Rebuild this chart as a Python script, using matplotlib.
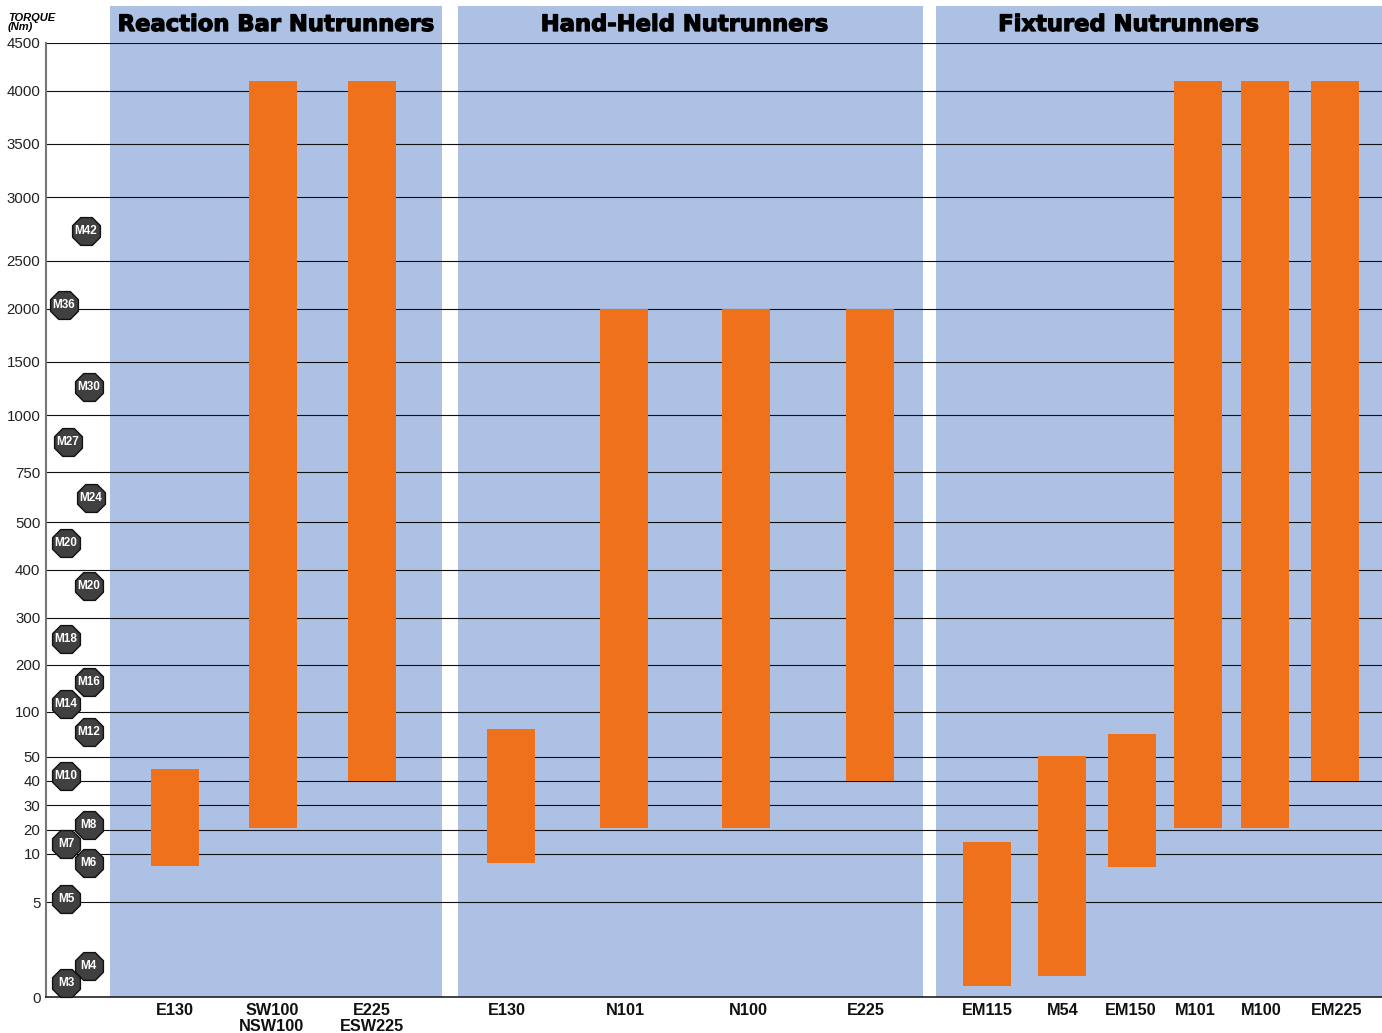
import numpy as np
import matplotlib
matplotlib.use("Agg")
import matplotlib.pyplot as plt
import matplotlib.patheffects as pe
from matplotlib.patches import Rectangle
from matplotlib.transforms import blended_transform_factory

W, H = 1382, 1033

# --- data ---
tick_values = [0, 5, 10, 20, 30, 40, 50, 100, 200, 300, 400, 500, 750, 1000,
               1500, 2000, 2500, 3000, 3500, 4000, 4500]
tick_pixels = [997.3, 902.3, 853.7, 829.5, 805, 780.7, 756.5, 711.5, 664.5, 617.5,
               569.7, 522, 472, 415, 361.5, 308.5, 260.5, 197, 143.5, 90.5, 42.5]

groups = ["Reaction Bar Nutrunners", "Hand-Held Nutrunners", "Fixtured Nutrunners"]
group_left = [110, 458, 936]
group_right = [442, 923, 1382]
group_title_x = [276, 684.5, 1128.5]

bar_labels = ["E130", "SW100\nNSW100", "E225\nESW225", "E130", "N101", "N100", "E225",
              "EM115", "M54", "EM150", "M101", "M100", "EM225"]
bar_low = [8.7, 20.7, 40, 9, 20.7, 20.7, 40, 0.6, 1.1, 8.6, 20.7, 20.7, 40]
bar_high = [45, 4100, 4100, 80.5, 2000, 2000, 2000, 15, 51, 75, 4100, 4100, 4100]
bar_left = [151, 249, 348, 487, 600, 722, 846, 963, 1038, 1108, 1174, 1241, 1311]
bar_width = 48
label_x = [175, 272, 372, 507, 625, 748, 866, 987, 1063, 1131, 1195, 1261, 1337]

bolt_names = ["M42", "M36", "M30", "M27", "M24", "M20", "M20", "M18", "M16", "M14",
              "M12", "M10", "M8", "M7", "M6", "M5", "M4", "M3"]
bolt_torque = [2732, 2036, 1262, 882, 620, 456, 366, 254, 163, 116,
               77, 42, 21.9, 14, 9, 5.3, 1.65, 0.75]
bolt_x = [86, 64, 88.5, 68, 90.5, 66, 88.5, 66, 88.5, 66,
          88.5, 66, 88.5, 66, 88.5, 66, 88.5, 66]

# --- figure ---
plt.rcParams["font.family"] = ["Liberation Sans", "DejaVu Sans"]
fig = plt.figure(figsize=(W / 100, H / 100), dpi=100)
ax_top, ax_bottom = tick_pixels[-1], tick_pixels[0]
ax = fig.add_axes([46 / W, 1 - ax_bottom / H, (W - 46) / W, (ax_bottom - ax_top) / H])

# piecewise-linear torque axis, as printed in the original chart
tv = np.array(tick_values, float)
tp = -np.array(tick_pixels, float)
ax.set_yscale("function", functions=(lambda v: np.interp(v, tv, tp),
                                     lambda p: np.interp(p, tp, tv)))
ax.set_ylim(0, 4500)
ax.set_xlim(46, W)

trans = blended_transform_factory(ax.transData, ax.transAxes)
panel_h = (ax_bottom - 6) / (ax_bottom - ax_top)
for name, l, r, tx in zip(groups, group_left, group_right, group_title_x):
    ax.add_patch(Rectangle((l, 0), r - l, panel_h, transform=trans, clip_on=False,
                           facecolor="#adc1e4", edgecolor="none", zorder=0))
    fig.text(tx / W, 1 - 24.5 / H, name, ha="center", va="center", family="DejaVu Sans",
             fontweight="bold", fontsize=16.3, color="black",
             path_effects=[pe.withStroke(linewidth=0.9, foreground="black")])

ax.set_yticks(tick_values)
ax.set_yticklabels([str(v) for v in tick_values], fontsize=10.8, color="#222222")
ax.yaxis.grid(True, color="#111111", lw=0.8, zorder=1)
ax.xaxis.grid(False)
ax.set_axisbelow(True)
ax.tick_params(axis="y", length=0, pad=4)

for low, high, left in zip(bar_low, bar_high, bar_left):
    ax.bar(left, high - low, bottom=low, width=bar_width, align="edge",
           color="#f0711c", edgecolor="none", zorder=2)

ax.set_xticks(label_x)
ax.set_xticklabels(bar_labels, fontsize=11.7, fontweight="bold", color="#111111",
                   linespacing=1.1)
ax.tick_params(axis="x", length=0, pad=4)

for spine in ("top", "right"):
    ax.spines[spine].set_visible(False)
ax.spines["left"].set_color("#777777")
ax.spines["left"].set_linewidth(1.5)
ax.spines["bottom"].set_color("#222222")
ax.spines["bottom"].set_linewidth(1.2)

ax.scatter(bolt_x, bolt_torque, s=470, marker=(8, 0, 22.5), facecolor="#404040",
           edgecolor="#111111", linewidth=1.0, zorder=4, clip_on=False)
for name, x, t in zip(bolt_names, bolt_x, bolt_torque):
    ax.text(x, t, name, ha="center", va="center", color="white", fontsize=8.5,
            fontweight="bold", zorder=5, clip_on=False)

fig.text(8 / W, 1 - 18 / H, "TORQUE", fontsize=8, fontweight="bold", fontstyle="italic",
         ha="left", va="center", color="black")
fig.text(8 / W, 1 - 27 / H, "(Nm)", fontsize=8, fontweight="bold", fontstyle="italic",
         ha="left", va="center", color="black")

fig.savefig("out.png", dpi=100)
